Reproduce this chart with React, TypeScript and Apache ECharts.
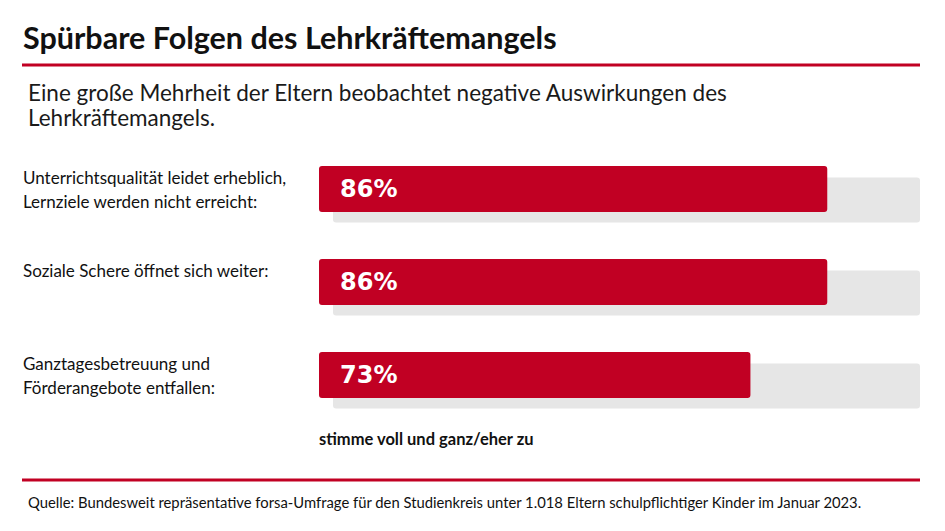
import React, { useEffect, useRef } from "react";
import * as echarts from "echarts";

const titleText = "Spürbare Folgen des Lehrkräftemangels";
const subtitleText = "Eine große Mehrheit der Eltern beobachtet negative Auswirkungen des\nLehrkräftemangels.";
const sourceText = "Quelle: Bundesweit repräsentative forsa-Umfrage für den Studienkreis unter 1.018 Eltern schulpflichtiger Kinder im Januar 2023.";
const categories = [
  "Unterrichtsqualität leidet erheblich,\nLernziele werden nicht erreicht:",
  "Soziale Schere öffnet sich weiter:",
  "Ganztagesbetreuung und\nFörderangebote entfallen:",
];
const seriesName = "stimme voll und ganz/eher zu";
const values = [86, 86, 73];
const backgroundValues = [100, 100, 100];

const RED = "#c10023";
const GRAY = "#e6e6e6";
const FONT = "Lato, 'Open Sans', sans-serif";

export default function App() {
  const ref = useRef<HTMLDivElement>(null);
  useEffect(() => {
    if (!ref.current) return;
    const chart = echarts.init(ref.current, undefined, { renderer: "svg" });
    chart.setOption({
      animation: false,
      backgroundColor: "#ffffff",
      title: [
        {
          text: titleText,
          left: 18,
          top: 16,
          textStyle: { fontFamily: FONT, fontSize: 30.5, fontWeight: "bold", color: "#111111" },
        },
        {
          text: subtitleText,
          left: 23,
          top: 75,
          textStyle: { fontFamily: FONT, fontSize: 22.5, fontWeight: "normal", color: "#1a1a1a", lineHeight: 25 },
        },
        {
          text: sourceText,
          left: 23,
          top: 489,
          textStyle: { fontFamily: FONT, fontSize: 14.8, fontWeight: "normal", color: "#111111" },
        },
      ],
      legend: {
        data: [seriesName],
        left: 309,
        top: 425,
        itemWidth: 0,
        itemHeight: 0,
        icon: "rect",
        selectedMode: false,
        textStyle: { fontFamily: FONT, fontSize: 16.5, fontWeight: "bold", color: "#111111" },
      },
      graphic: [
        { type: "line", shape: { x1: 22, y1: 65, x2: 920, y2: 65 }, style: { stroke: RED, lineWidth: 3 } },
        { type: "line", shape: { x1: 22, y1: 480, x2: 920, y2: 480 }, style: { stroke: RED, lineWidth: 3 } },
      ],
      grid: [
        { left: 319, width: 591, top: 142.5, height: 279 },
        { left: 333, width: 587, top: 153.5, height: 279 },
        { left: 23, width: 280, top: 118.5, height: 279 },
      ],
      xAxis: [
        { type: "value", gridIndex: 0, min: 0, max: 100, show: false },
        { type: "value", gridIndex: 1, min: 0, max: 100, show: false },
        { type: "value", gridIndex: 2, min: 0, max: 100, show: false },
      ],
      yAxis: [
        { type: "category", gridIndex: 0, data: categories, inverse: true, show: false },
        { type: "category", gridIndex: 1, data: categories, inverse: true, show: false },
        {
          type: "category",
          gridIndex: 2,
          data: categories,
          inverse: true,
          axisLine: { show: false },
          axisTick: { show: false },
          splitLine: { show: false },
          axisLabel: {
            inside: true,
            margin: 0,
            align: "left",
            verticalAlign: "top",
            lineHeight: 24,
            fontFamily: FONT,
            fontSize: 17,
            color: "#111111",
          },
        },
      ],
      series: [
        {
          name: "Hintergrund",
          type: "bar",
          xAxisIndex: 1,
          yAxisIndex: 1,
          data: backgroundValues,
          barWidth: 45,
          silent: true,
          itemStyle: { color: GRAY, borderRadius: 3 },
          z: 1,
        },
        {
          name: seriesName,
          type: "bar",
          xAxisIndex: 0,
          yAxisIndex: 0,
          data: values,
          barWidth: 46,
          itemStyle: { color: RED, borderRadius: 3 },
          z: 3,
          label: {
            show: true,
            position: "insideLeft",
            distance: 21,
            formatter: "{c}%",
            color: "#ffffff",
            fontFamily: "'DejaVu Sans', sans-serif",
            fontWeight: "bold",
            fontSize: 24,
          },
        },
      ],
    });
    return () => chart.dispose();
  }, []);
  return (
    <div
      ref={ref}
      style={{ position: "absolute", left: 0, top: 0, width: 945, height: 531 }}
    />
  );
}
